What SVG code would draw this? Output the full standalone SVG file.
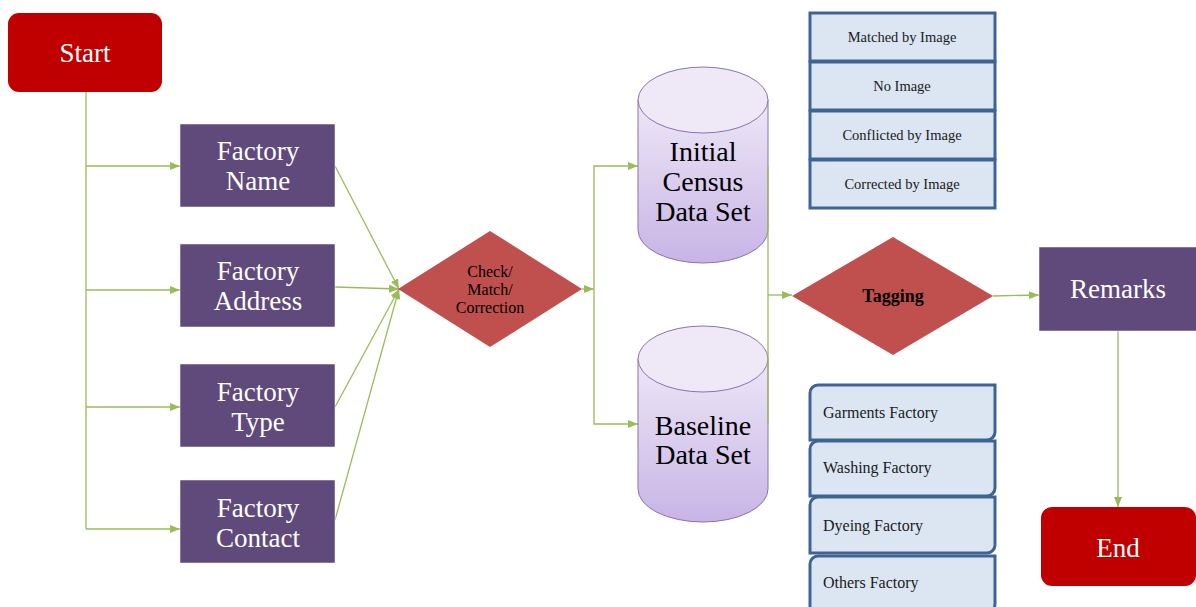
<svg xmlns="http://www.w3.org/2000/svg" width="1196" height="607" viewBox="0 0 1196 607">
<style>
.term{fill:#C00000}
.proc{fill:#604A7B;stroke:#fff;stroke-width:0.5}
.dec{fill:#C0504D}
.wt{fill:#fff;font-family:"Liberation Serif",serif;font-size:27px;text-anchor:middle}
.bt{fill:#000;font-family:"Liberation Serif",serif;text-anchor:middle}
.lst{fill:#DCE6F2;stroke:#3F6494;stroke-width:3}
.lt{fill:#1a1a1a;font-family:"Liberation Serif",serif;font-size:14.5px;text-anchor:middle}
.lt2{fill:#1a1a1a;font-family:"Liberation Serif",serif;font-size:16px}
.conn{fill:none;stroke:#9BBB59;stroke-width:1.3}
.cyl{fill:url(#cg);stroke:#8B72B0;stroke-width:1}
.cyltop{fill:#EEE8F7;stroke:#8B72B0;stroke-width:1}
</style>
<defs>
<marker id="ah" markerWidth="10" markerHeight="8" refX="10" refY="4" orient="auto" markerUnits="userSpaceOnUse">
<path d="M0,0 L10,4 L0,8 Z" fill="#9BBB59"/>
</marker>
<linearGradient id="cg" x1="0" y1="0" x2="0" y2="1">
<stop offset="0" stop-color="#EDE7F6"/>
<stop offset="1" stop-color="#C8B4E6"/>
</linearGradient>
</defs>

<g id="connectors">
<path class="conn" d="M86,92 V529"/>
<path class="conn" d="M86,166 H180" marker-end="url(#ah)"/>
<path class="conn" d="M86,290 H180" marker-end="url(#ah)"/>
<path class="conn" d="M86,407 H180" marker-end="url(#ah)"/>
<path class="conn" d="M86,529 H180" marker-end="url(#ah)"/>
<path class="conn" d="M335,166 L399,289" marker-end="url(#ah)"/>
<path class="conn" d="M335,287 L399,289" marker-end="url(#ah)"/>
<path class="conn" d="M335,407 L399,289" marker-end="url(#ah)"/>
<path class="conn" d="M335,520 L399,289" marker-end="url(#ah)"/>
<path class="conn" d="M582,289 H594" marker-end="url(#ah)"/>
<path class="conn" d="M594,289 V166 H638" marker-end="url(#ah)"/>
<path class="conn" d="M594,289 V424 H638" marker-end="url(#ah)"/>
<path class="conn" d="M993,296 L1039,295" marker-end="url(#ah)"/>
<path class="conn" d="M1118,331 V507" marker-end="url(#ah)"/>
</g>

<g id="start"><rect class="term" x="8" y="13" width="154" height="79" rx="11"/><text class="wt" x="85" y="62">Start</text></g>

<g id="factory-name"><rect class="proc" x="180" y="124" width="155" height="83"/><text class="wt" x="258" y="160">Factory</text><text class="wt" x="258" y="190">Name</text></g>
<g id="factory-address"><rect class="proc" x="180" y="244" width="155" height="83"/><text class="wt" x="258" y="280">Factory</text><text class="wt" x="258" y="310">Address</text></g>
<g id="factory-type"><rect class="proc" x="180" y="364" width="155" height="83"/><text class="wt" x="258" y="401">Factory</text><text class="wt" x="258" y="431">Type</text></g>
<g id="factory-contact"><rect class="proc" x="180" y="480" width="155" height="83"/><text class="wt" x="258" y="517">Factory</text><text class="wt" x="258" y="547">Contact</text></g>

<g id="check"><polygon class="dec" points="398,289 490,231 582,289 490,347"/>
<text class="bt" font-size="16" x="490" y="277">Check/</text><text class="bt" font-size="16" x="490" y="295">Match/</text><text class="bt" font-size="16" x="490" y="313">Correction</text></g>

<g id="initial-census">
<path class="cyl" d="M638,100 V230 A65,33 0 0 0 768,230 V100 Z"/>
<ellipse class="cyltop" cx="703" cy="100" rx="65" ry="33"/>
<text class="bt" font-size="28" x="703" y="161">Initial</text><text class="bt" font-size="28" x="703" y="191">Census</text><text class="bt" font-size="28" x="703" y="221">Data Set</text>
</g>
<g id="baseline">
<path class="cyl" d="M638,359 V489 A65,33 0 0 0 768,489 V359 Z"/>
<ellipse class="cyltop" cx="703" cy="359" rx="65" ry="33"/>
<text class="bt" font-size="28" x="703" y="435">Baseline</text><text class="bt" font-size="28" x="703" y="464">Data Set</text>
</g>

<g id="cyl-join">
<path class="conn" d="M768,166 V424"/>
<path class="conn" d="M768,295 H792" marker-end="url(#ah)"/>
</g>

<g id="tagging"><polygon class="dec" points="792,296 893,237 993,296 893,355"/><text class="bt" font-size="18" font-weight="bold" x="893" y="302">Tagging</text></g>

<g id="remarks"><rect class="proc" x="1039" y="247" width="158" height="84"/><text class="wt" x="1118" y="298">Remarks</text></g>
<g id="end"><rect class="term" x="1041" y="507" width="155" height="79" rx="11"/><text class="wt" x="1118" y="557">End</text></g>

<g id="image-status">
<rect class="lst" x="810" y="13" width="185" height="48"/><text class="lt" x="902" y="42">Matched by Image</text>
<rect class="lst" x="810" y="62" width="185" height="48"/><text class="lt" x="902" y="91">No Image</text>
<rect class="lst" x="810" y="111" width="185" height="48"/><text class="lt" x="902" y="140">Conflicted by Image</text>
<rect class="lst" x="810" y="160" width="185" height="48"/><text class="lt" x="902" y="189">Corrected by Image</text>
</g>

<g id="factory-types">
<path class="lst" d="M818,385 H995 V432 A8,8 0 0 1 987,440 H810 V393 A8,8 0 0 1 818,385 Z"/><text class="lt2" x="823" y="418">Garments Factory</text>
<path class="lst" d="M818,441 H995 V488 A8,8 0 0 1 987,496 H810 V449 A8,8 0 0 1 818,441 Z"/><text class="lt2" x="823" y="473">Washing Factory</text>
<path class="lst" d="M818,497 H995 V545 A8,8 0 0 1 987,553 H810 V505 A8,8 0 0 1 818,497 Z"/><text class="lt2" x="823" y="531">Dyeing Factory</text>
<path class="lst" d="M818,556 H995 V604 A8,8 0 0 1 987,612 H810 V564 A8,8 0 0 1 818,556 Z"/><text class="lt2" x="823" y="588">Others Factory</text>
</g>
</svg>
